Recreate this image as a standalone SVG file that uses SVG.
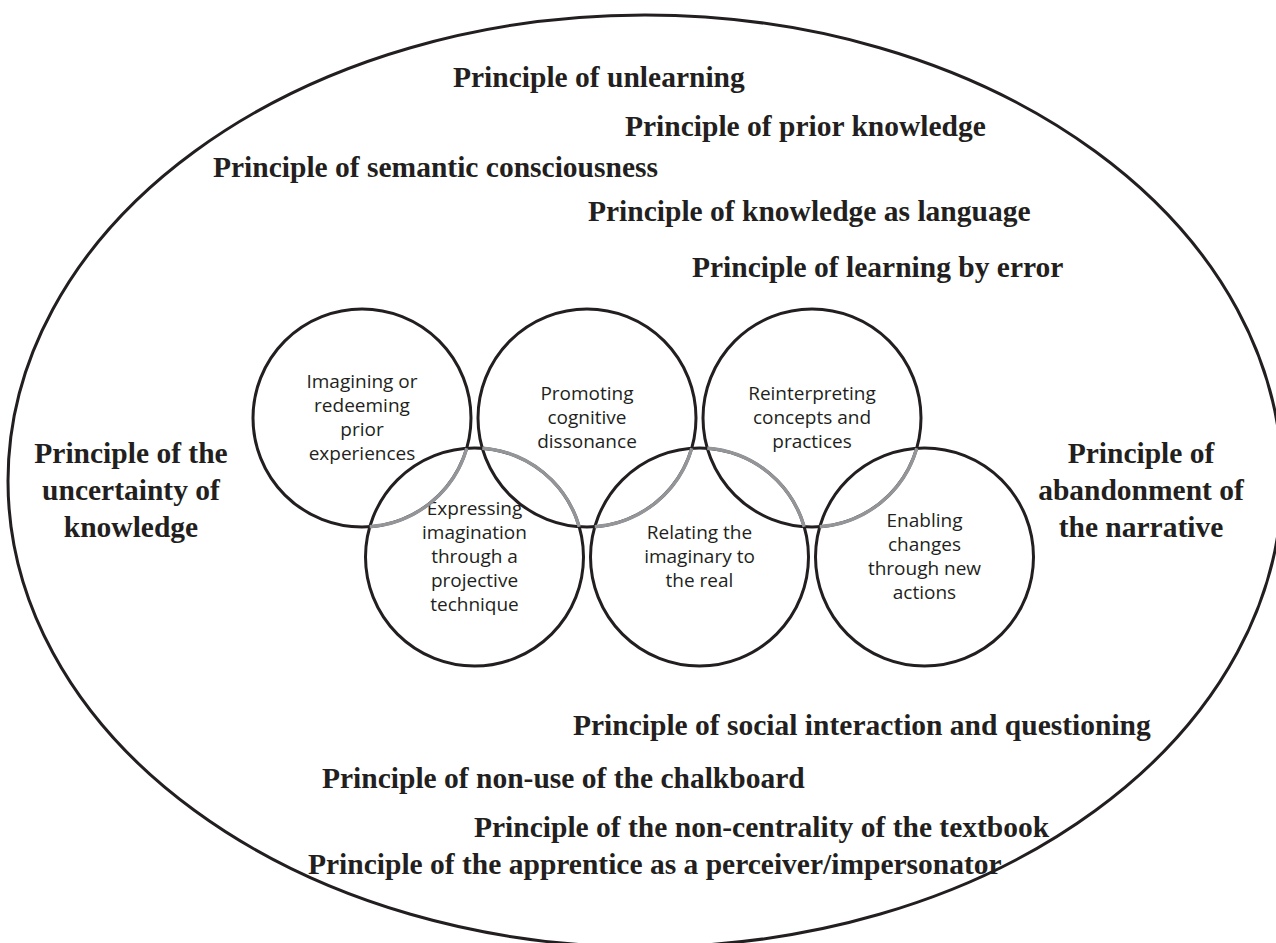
<svg xmlns="http://www.w3.org/2000/svg" width="1276" height="943" viewBox="0 0 1276 943">
<style>
.bg{fill:#ffffff}
.ring{fill:none;stroke:#231f20;stroke-width:3}
.gray{fill:none;stroke:#939598;stroke-width:3.4}
.outer{fill:none;stroke:#231f20;stroke-width:3}
.p{font-family:"Liberation Serif","Times New Roman",serif;font-weight:bold;font-size:29.5px;fill:#231f20}
.pc{font-family:"Liberation Serif","Times New Roman",serif;font-weight:bold;font-size:29.5px;fill:#231f20;text-anchor:middle}
.c{font-family:"Open Sans","Noto Sans",sans-serif;font-size:19px;fill:#231f20;text-anchor:middle}
</style>
<rect class="bg" x="0" y="0" width="1276" height="943"/>
<g id="outer-ellipse">
<ellipse class="outer" cx="645" cy="481" rx="637" ry="466"/>
</g>
<g id="principles">
<text class="p" x="453" y="87">Principle of unlearning</text>
<text class="p" x="625" y="136">Principle of prior knowledge</text>
<text class="p" x="213" y="177">Principle of semantic consciousness</text>
<text class="p" x="588" y="221">Principle of knowledge as language</text>
<text class="p" x="692" y="277">Principle of learning by error</text>
<text class="pc" x="131" y="463">Principle of the</text>
<text class="pc" x="131" y="500">uncertainty of</text>
<text class="pc" x="131" y="537">knowledge</text>
<text class="pc" x="1141" y="463">Principle of</text>
<text class="pc" x="1141" y="500">abandonment of</text>
<text class="pc" x="1141" y="537">the narrative</text>
<text class="p" x="573" y="735">Principle of social interaction and questioning</text>
<text class="p" x="322" y="788">Principle of non-use of the chalkboard</text>
<text class="p" x="474" y="837">Principle of the non-centrality of the textbook</text>
<text class="p" x="308" y="874">Principle of the apprentice as a perceiver/impersonator</text>
</g>
<g id="node-1">
<circle class="ring" cx="362" cy="418" r="109"/>
<text class="c" x="362" y="388">Imagining or</text>
<text class="c" x="362" y="412">redeeming</text>
<text class="c" x="362" y="436">prior</text>
<text class="c" x="362" y="460">experiences</text>
</g>
<g id="node-2">
<circle class="ring" cx="474.5" cy="557" r="109"/>
<text class="c" x="474.5" y="515">Expressing</text>
<text class="c" x="474.5" y="539">imagination</text>
<text class="c" x="474.5" y="563">through a</text>
<text class="c" x="474.5" y="587">projective</text>
<text class="c" x="474.5" y="611">technique</text>
</g>
<g id="node-3">
<circle class="ring" cx="587" cy="418" r="109"/>
<text class="c" x="587" y="400">Promoting</text>
<text class="c" x="587" y="424">cognitive</text>
<text class="c" x="587" y="448">dissonance</text>
</g>
<g id="node-4">
<circle class="ring" cx="699.5" cy="557" r="109"/>
<text class="c" x="699.5" y="539">Relating the</text>
<text class="c" x="699.5" y="563">imaginary to</text>
<text class="c" x="699.5" y="587">the real</text>
</g>
<g id="node-5">
<circle class="ring" cx="812" cy="418" r="109"/>
<text class="c" x="812" y="400">Reinterpreting</text>
<text class="c" x="812" y="424">concepts and</text>
<text class="c" x="812" y="448">practices</text>
</g>
<g id="node-6">
<circle class="ring" cx="924.5" cy="557" r="109"/>
<text class="c" x="924.5" y="527">Enabling</text>
<text class="c" x="924.5" y="551">changes</text>
<text class="c" x="924.5" y="575">through new</text>
<text class="c" x="924.5" y="599">actions</text>
</g>
<g id="connectors">
<path class="gray" d="M466.73,448.26 A109,109 0 0 1 369.77,526.74"/>
<path class="gray" d="M482.27,448.26 A109,109 0 0 1 579.23,526.74"/>
<path class="gray" d="M691.73,448.26 A109,109 0 0 1 594.77,526.74"/>
<path class="gray" d="M707.27,448.26 A109,109 0 0 1 804.23,526.74"/>
<path class="gray" d="M916.73,448.26 A109,109 0 0 1 819.77,526.74"/>
</g>
</svg>
